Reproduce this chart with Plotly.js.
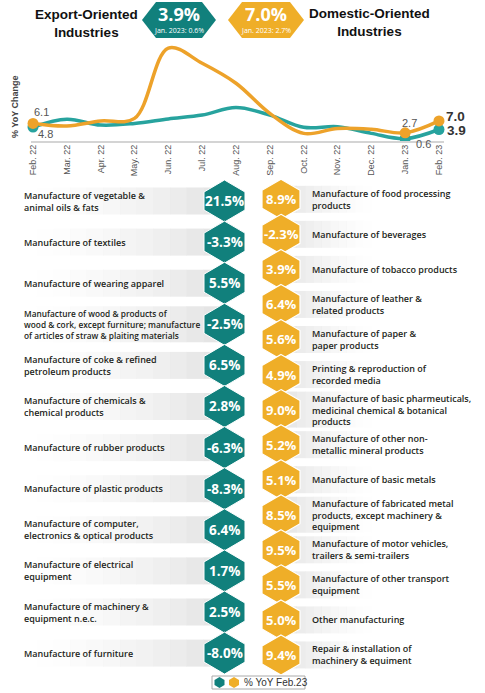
<!DOCTYPE html>
<html>
<head>
<meta charset="utf-8">
<script src="https://cdn.plot.ly/plotly-3.0.1.min.js"></script>
<style>html,body{margin:0;padding:0;background:#fff}</style>
</head>
<body>
<div id="chart" style="width:485px;height:693px"></div>
<script>
// Data
const months = ["Feb. 22", "Mar. 22", "Apr. 22", "May. 22", "Jun. 22", "Jul. 22", "Aug. 22",
  "Sep. 22", "Oct. 22", "Nov. 22", "Dec. 22", "Jan. 23", "Feb. 23"];
const exportYoY = [4.8, 7.6, 5.5, 6.1, 7.7, 9.1, 11.8, 9.1, 4.7, 4.9, 2.5, 0.6, 3.9];
const domesticYoY = [6.1, 5.2, 7.0, 7.9, 33.3, 27.8, 20.6, 9.7, 2.5, 4.3, 4.0, 2.7, 7.0];
const labelledPoints = [0, 11, 12];

const exportIndustries = [
  "Manufacture of vegetable &<br>animal oils & fats",
  "Manufacture of textiles",
  "Manufacture of wearing apparel",
  "Manufacture of wood & products of<br>wood & cork, except furniture; manufacture<br>of articles of straw & plaiting materials",
  "Manufacture of coke & refined<br>petroleum products",
  "Manufacture of chemicals &<br>chemical products",
  "Manufacture of rubber products",
  "Manufacture of plastic products",
  "Manufacture of computer,<br>electronics & optical products",
  "Manufacture of electrical<br>equipment",
  "Manufacture of machinery &<br>equipment n.e.c.",
  "Manufacture of furniture"
];
const exportValues = [21.5, -3.3, 5.5, -2.5, 6.5, 2.8, -6.3, -8.3, 6.4, 1.7, 2.5, -8.0];

const domesticIndustries = [
  "Manufacture of food processing<br>products",
  "Manufacture of beverages",
  "Manufacture of tobacco products",
  "Manufacture of leather &<br>related products",
  "Manufacture of paper &<br>paper products",
  "Printing & reproduction of<br>recorded media",
  "Manufacture of basic pharmeuticals,<br>medicinal chemical & botanical<br>products",
  "Manufacture of other non-<br>metallic mineral products",
  "Manufacture of basic metals",
  "Manufacture of fabricated metal<br>products, except machinery &<br>equipment",
  "Manufacture of motor vehicles,<br>trailers & semi-trailers",
  "Manufacture of other transport<br>equipment",
  "Other manufacturing",
  "Repair & installation of<br>machinery & equiment"
];
const domesticValues = [8.9, -2.3, 3.9, 6.4, 5.6, 4.9, 9.0, 5.2, 5.1, 8.5, 9.5, 5.5, 5.0, 9.4];

// Colours
const TEAL = "#11807c";
const TEAL_LINE = "#27a39e";
const ORANGE = "#efae28";
const ORANGE_LINE = "#eda22a";

// helpers: pixel -> paper
const W = 485, H = 693;
const fx = p => p / W;
const fy = p => 1 - p / H;

function pathOf(pts) {
  return "M" + pts.map(p => fx(p[0]).toFixed(5) + "," + fy(p[1]).toFixed(5)).join(" L") + " Z";
}

// pointy-top hexagon
function hexV(cx, cy, w, h, t) {
  return pathOf([[cx, cy - h / 2], [cx + w / 2, cy - h / 2 + t], [cx + w / 2, cy + h / 2 - t],
    [cx, cy + h / 2], [cx - w / 2, cy + h / 2 - t], [cx - w / 2, cy - h / 2 + t]]);
}

// flat-top hexagon (points left/right)
function hexH(x0, x1, y0, y1, t) {
  const ym = (y0 + y1) / 2;
  return pathOf([[x0, ym], [x0 + t, y0], [x1 - t, y0], [x1, ym], [x1 - t, y1], [x0 + t, y1]]);
}

function fmt(v) {
  return v.toFixed(1) + "%";
}

let shapes = [];
let annotations = [];

// paper annotation, anchored at its middle unless told otherwise
function note(px, py, text, font, extra) {
  annotations.push(Object.assign({
    xref: "paper", yref: "paper", x: fx(px), y: fy(py), text: text, showarrow: false,
    xanchor: "center", yanchor: "middle", font: font
  }, extra || {}));
}

// fading grey band behind a label
function band(x0, x1, cy, h, fadeLeft) {
  const n = 12;
  const step = (x1 - x0) / n;
  for (let i = 0; i < n; i++) {
    let k = (i + 0.5) / n;
    if (!fadeLeft) k = 1 - k;
    shapes.push({
      type: "rect", xref: "paper", yref: "paper", layer: "below",
      x0: fx(x0 + i * step), x1: fx(x0 + (i + 1) * step + 0.3),
      y0: fy(cy + h / 2), y1: fy(cy - h / 2),
      fillcolor: "#e3e3e3", opacity: Math.pow(k, 1.6), line: {width: 0}
    });
  }
}

// header
shapes.push({type: "path", xref: "paper", yref: "paper", path: hexH(142, 216, 2, 38, 14),
  fillcolor: TEAL, line: {width: 0}});
shapes.push({type: "path", xref: "paper", yref: "paper", path: hexH(228, 304, 2, 38, 14),
  fillcolor: ORANGE, line: {width: 0}});

const headFont = {family: "Liberation Sans, sans-serif", size: 13.5, color: "#111", weight: "bold"};
note(86, 23, "Export-Oriented<br>Industries", headFont);
note(369, 22, "Domestic-Oriented<br>Industries", headFont);

const n = months.length;
[[179, exportYoY], [266, domesticYoY]].forEach(([cx, series]) => {
  note(cx, 14.5, fmt(series[n - 1]), {family: "Open Sans, sans-serif", size: 18, color: "#fff", weight: "bold"});
  note(cx, 30.5, "Jan. 2023: " + fmt(series[n - 2]), {family: "Open Sans, sans-serif", size: 7, color: "#fff"});
});

// axis baseline + y title
shapes.push({type: "line", xref: "paper", yref: "paper", x0: fx(31), x1: fx(444), y0: fy(142), y1: fy(142),
  line: {color: "#d4d4d4", width: 2}});
note(15, 107, "% YoY Change", {family: "Liberation Sans, sans-serif", size: 9, color: "#444", weight: "bold"},
  {textangle: -90});

// point labels
const small = {family: "Liberation Sans, sans-serif", size: 11, color: "#555"};
const big = {family: "Liberation Sans, sans-serif", size: 13.5, color: "#333", weight: "bold"};
function pointNote(i, series, text, font, dx, dy, anchor) {
  annotations.push({x: months[i], y: series[i], text: text, showarrow: false, font: font,
    xanchor: anchor || "center", yanchor: "middle", xshift: dx, yshift: dy});
}
pointNote(0, domesticYoY, String(domesticYoY[0]), small, 8, 11);
pointNote(0, exportYoY, String(exportYoY[0]), small, 12, -7);
pointNote(11, domesticYoY, String(domesticYoY[11]), small, 4, 10);
pointNote(11, exportYoY, String(exportYoY[11]), small, 18, -5);
pointNote(12, domesticYoY, domesticYoY[12].toFixed(1), big, 5, 4, "left");
pointNote(12, exportYoY, exportYoY[12].toFixed(1), big, 6, -0.5, "left");

// industry hexagons
const labelFont = {family: "Open Sans, sans-serif", size: 9, color: "#231f20", weight: 600};
const hexFont = {family: "Open Sans, sans-serif", size: 13.5, color: "#fff", weight: "bold"};

exportIndustries.forEach((name, i) => {
  const cy = 201 + i * 41.1;
  const lines = name.split("<br>").length;
  band(20, 220, cy, lines > 2 ? 36 : 27, true);
  shapes.push({type: "path", xref: "paper", yref: "paper", path: hexV(224.5, cy, 41, 42, 12),
    fillcolor: TEAL, line: {color: "#fff", width: 1}});
  note(22, cy, name, lines > 2 ? Object.assign({}, labelFont, {size: 8.3}) : labelFont,
    {xanchor: "left", align: "left"});
  note(224.5, cy, fmt(exportValues[i]), hexFont);
});

domesticIndustries.forEach((name, i) => {
  const cy = 199.3 + i * 35.05;
  const lines = name.split("<br>").length;
  band(280, 380, cy, lines > 2 ? 36 : 27, false);
  shapes.push({type: "path", xref: "paper", yref: "paper", path: hexV(281, cy, 38, 40, 11),
    fillcolor: ORANGE, line: {color: "#fff", width: 1.2}});
  note(310, cy, name, labelFont, {xanchor: "left", align: "left"});
  note(281, cy, fmt(domesticValues[i]), Object.assign({}, hexFont, {size: 13}));
});

// legend box
shapes.push({type: "rect", xref: "paper", yref: "paper", x0: fx(212), x1: fx(305), y0: fy(689), y1: fy(676),
  fillcolor: "#fff", line: {color: "#aaa", width: 1}});
shapes.push({type: "path", xref: "paper", yref: "paper", path: hexV(219.5, 682.5, 10, 11, 3),
  fillcolor: TEAL, line: {width: 0}});
shapes.push({type: "path", xref: "paper", yref: "paper", path: hexV(234, 682.5, 10, 11, 3),
  fillcolor: ORANGE, line: {width: 0}});
note(242, 682.5, "% YoY Feb.23", {family: "Liberation Sans, sans-serif", size: 10, color: "#333"},
  {xanchor: "left"});

// traces
const traces = [
  {x: months, y: exportYoY, mode: "lines", line: {shape: "spline", smoothing: 1, color: TEAL_LINE, width: 3.5},
    hoverinfo: "skip", showlegend: false},
  {x: months, y: domesticYoY, mode: "lines", line: {shape: "spline", smoothing: 1, color: ORANGE_LINE, width: 3.5},
    hoverinfo: "skip", showlegend: false},
  {x: labelledPoints.map(i => months[i]), y: labelledPoints.map(i => exportYoY[i]), mode: "markers",
    marker: {color: TEAL_LINE, size: 11}, hoverinfo: "skip", showlegend: false},
  {x: labelledPoints.map(i => months[i]), y: labelledPoints.map(i => domesticYoY[i]), mode: "markers",
    marker: {color: ORANGE_LINE, size: 11}, hoverinfo: "skip", showlegend: false}
];

const layout = {
  width: W,
  height: H,
  margin: {l: 0, r: 0, t: 0, b: 0},
  paper_bgcolor: "#fff",
  plot_bgcolor: "rgba(0,0,0,0)",
  showlegend: false,
  xaxis: {
    type: "category",
    domain: [fx(16.1), fx(455.9)],
    range: [-0.5, 12.5],
    tickangle: -90,
    tickfont: {family: "Liberation Sans, sans-serif", size: 9, color: "#555"},
    showgrid: false, zeroline: false, showline: false, ticks: ""
  },
  yaxis: {
    domain: [fy(142), fy(40)],
    range: [-0.61, 36.2],
    showticklabels: false, showgrid: false, zeroline: false, showline: false
  },
  shapes: shapes,
  annotations: annotations
};

Plotly.newPlot("chart", traces, layout, {displayModeBar: false, staticPlot: true});
</script>
</body>
</html>
